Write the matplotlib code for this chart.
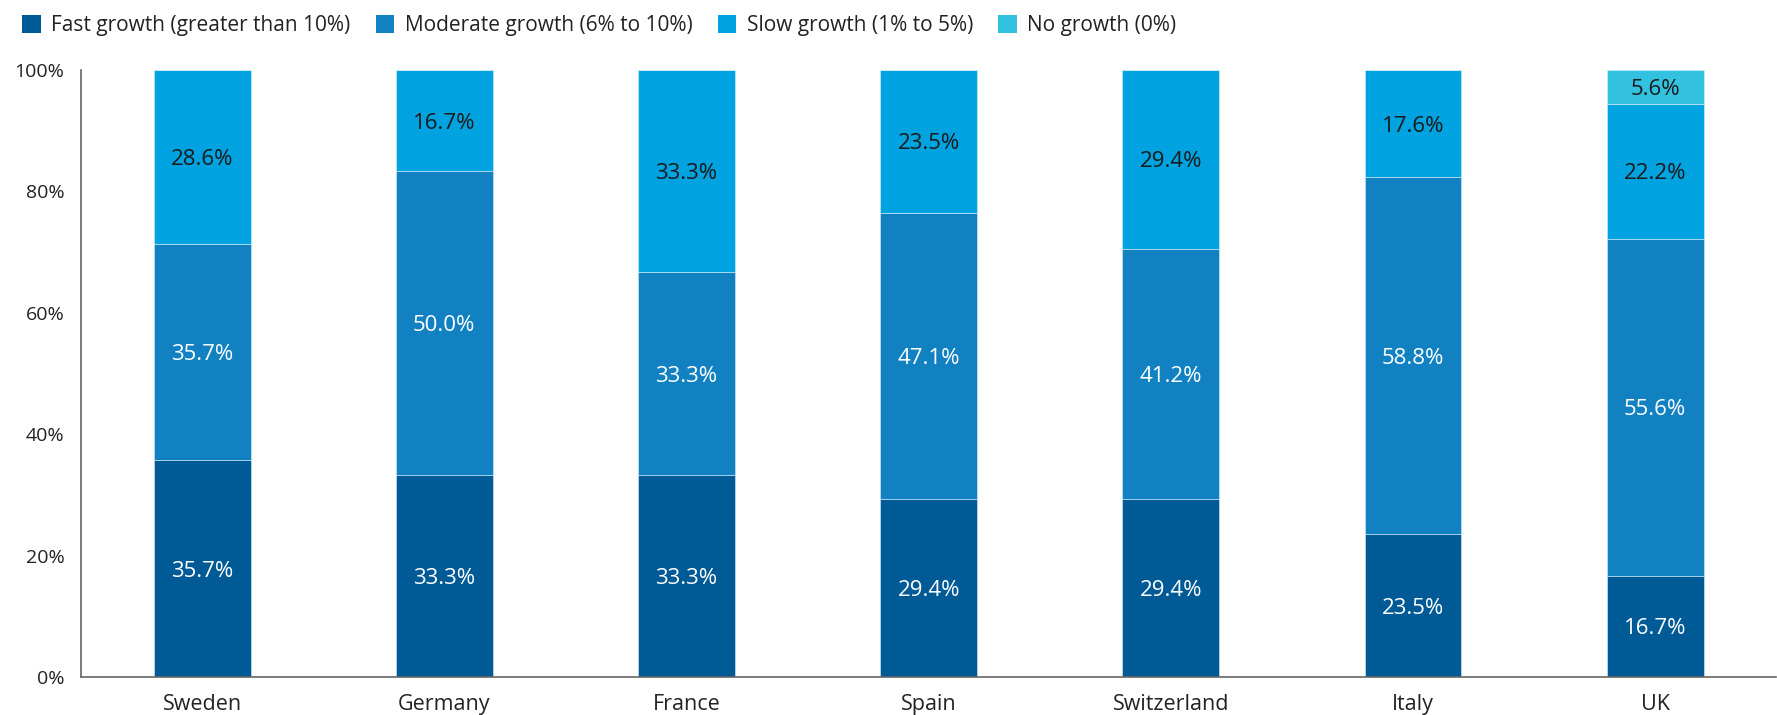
import matplotlib.pyplot as plt
import numpy as np
from matplotlib.patches import Patch

plt.rcParams['font.family'] = ['Open Sans', 'DejaVu Sans']

countries = ['Sweden', 'Germany', 'France', 'Spain', 'Switzerland', 'Italy', 'UK']
fast = [35.7, 33.3, 33.3, 29.4, 29.4, 23.5, 16.7]
moderate = [35.7, 50.0, 33.3, 47.1, 41.2, 58.8, 55.6]
slow = [28.6, 16.7, 33.3, 23.5, 29.4, 17.6, 22.2]
none_ = [0, 0, 0, 0, 0, 0, 5.6]

series = [
    ('Fast growth (greater than 10%)', fast, '#005a96', 'white'),
    ('Moderate growth (6% to 10%)', moderate, '#1181c2', 'white'),
    ('Slow growth (1% to 5%)', slow, '#00a2df', '#1a1a1a'),
    ('No growth (0%)', none_, '#33c1e0', '#1a1a1a'),
]

# shares are rounded, so scale each bar to a full 100%
totals = np.sum([s[1] for s in series], axis=0)

fig = plt.figure(figsize=(17.77, 7.15), dpi=100)
ax = fig.add_axes([0.0456, 0.053, 0.954, 0.849])

x = np.arange(len(countries))
bottom = np.zeros(len(countries))
handles = []
for label, vals, color, tcolor in series:
    vals = np.array(vals)
    h = vals / totals * 100
    ax.bar(x, h, width=0.4, bottom=bottom, color=color,
           edgecolor='#d9eef8', linewidth=0.4)
    for xi, b, hi, v in zip(x, bottom, h, vals):
        if v > 0:
            ax.text(xi, b + hi / 2, f'{v:.1f}%', ha='center', va='center_baseline',
                    color=tcolor, fontsize=16)
    bottom += h
    handles.append(Patch(facecolor=color, label=label))

ax.set_xlim(-0.5, 6.5)
ax.set_ylim(0, 100)
ax.set_yticks([0, 20, 40, 60, 80, 100])
ax.set_yticklabels([f'{t}%' for t in [0, 20, 40, 60, 80, 100]])
ax.set_xticks(x)
ax.set_xticklabels(countries)
ax.tick_params(axis='both', length=0, labelcolor='#222222')
ax.tick_params(axis='y', labelsize=14, pad=12)
ax.tick_params(axis='x', labelsize=15.5, pad=12)
for s in ['top', 'right']:
    ax.spines[s].set_visible(False)
for s in ['left', 'bottom']:
    ax.spines[s].set_color('#666666')
    ax.spines[s].set_linewidth(1.2)

fig.legend(handles=handles, loc='upper left', bbox_to_anchor=(0.002, 1.005),
           ncol=4, frameon=False, fontsize=15, handlelength=0.9,
           handleheight=0.9, handletextpad=0.5, columnspacing=1.2,
           labelcolor='#222222')

plt.savefig('out.png')
plt.close()
